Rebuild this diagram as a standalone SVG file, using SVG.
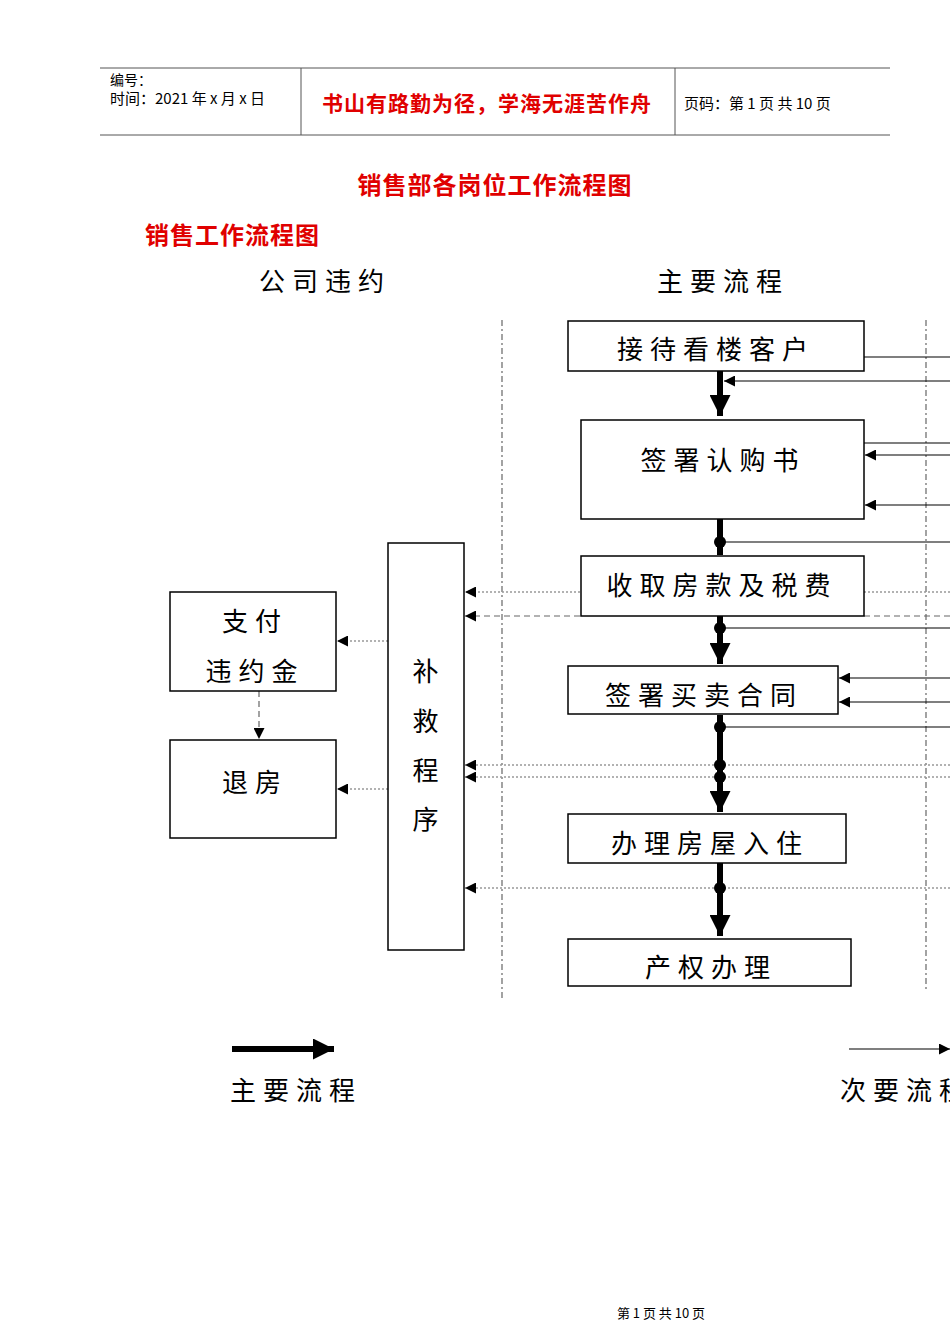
<svg xmlns="http://www.w3.org/2000/svg" width="950" height="1344" viewBox="0 0 950 1344">
<style>
text{font-family:"Noto Sans CJK SC","Liberation Sans",sans-serif;fill:#000}
.box{fill:#fff;stroke:#000;stroke-width:1.5}
.n{font-size:26px;letter-spacing:7px}
.main{stroke:#000;stroke-width:6}
.thin{stroke:#000;stroke-width:1.2}
.dot{stroke:#999;stroke-width:1.5;stroke-dasharray:2 2}
.dash{stroke:#666;stroke-width:1.2;stroke-dasharray:6 4}
.lane{stroke:#666;stroke-width:1.2;stroke-dasharray:6 3 2 3}
</style>
<defs>
<marker id="big" viewBox="0 0 10 10" refX="10" refY="5" markerWidth="5" markerHeight="3.5" orient="auto" markerUnits="strokeWidth"><path d="M0,0L10,5L0,10z" fill="#000"/></marker>
<marker id="sm" viewBox="0 0 10 10" refX="10" refY="5" markerWidth="14" markerHeight="11" orient="auto" markerUnits="userSpaceOnUse"><path d="M0,0L10,5L0,10z" fill="#000"/></marker>
</defs>
<g id="header">
<line x1="100" y1="68" x2="890" y2="68" stroke="#555"/>
<line x1="100" y1="135" x2="890" y2="135" stroke="#555"/>
<line x1="301" y1="68" x2="301" y2="135" stroke="#555"/>
<line x1="675" y1="68" x2="675" y2="135" stroke="#555"/>
<text x="110" y="85" font-size="14">编号：</text>
<text x="110" y="104" font-size="15">时间：2021 年 x 月 x 日</text>
<text x="322" y="111" font-size="21" font-weight="bold" letter-spacing="1" style="fill:#e00000">书山有路勤为径，学海无涯苦作舟</text>
<text x="684" y="109" font-size="15">页码：第 1 页  共 10 页</text>
</g>
<text x="495" y="194" font-size="24" font-weight="bold" letter-spacing="1" text-anchor="middle" style="fill:#e00000">销售部各岗位工作流程图</text>
<text x="145" y="244" font-size="24" font-weight="bold" letter-spacing="1" style="fill:#e00000">销售工作流程图</text>
<text class="n" x="325" y="291" text-anchor="middle">公司违约</text>
<text class="n" x="723" y="291" text-anchor="middle">主要流程</text>
<g id="lanes">
<line class="lane" x1="502" y1="320" x2="502" y2="1000"/>
<line class="lane" x1="926" y1="320" x2="926" y2="990"/>
</g>
<g id="connectors">
<line class="main" x1="720" y1="371" x2="720" y2="416" marker-end="url(#big)"/>
<line class="main" x1="720" y1="519" x2="720" y2="555"/>
<line class="main" x1="720" y1="616" x2="720" y2="664" marker-end="url(#big)"/>
<line class="main" x1="720" y1="715" x2="720" y2="812" marker-end="url(#big)"/>
<line class="main" x1="720" y1="863" x2="720" y2="936" marker-end="url(#big)"/>
<line class="thin" x1="864" y1="357" x2="950" y2="357"/>
<line class="thin" x1="950" y1="381" x2="724" y2="381" marker-end="url(#sm)"/>
<line class="thin" x1="864" y1="443" x2="950" y2="443"/>
<line class="thin" x1="950" y1="455" x2="865" y2="455" marker-end="url(#sm)"/>
<line class="thin" x1="950" y1="505" x2="865" y2="505" marker-end="url(#sm)"/>
<line class="thin" x1="720" y1="542" x2="950" y2="542"/>
<line class="thin" x1="720" y1="628" x2="950" y2="628"/>
<line class="thin" x1="950" y1="678" x2="839" y2="678" marker-end="url(#sm)"/>
<line class="thin" x1="950" y1="702" x2="839" y2="702" marker-end="url(#sm)"/>
<line class="thin" x1="720" y1="727" x2="950" y2="727"/>
<line class="dot" x1="864" y1="592" x2="950" y2="592"/>
<line class="dot" x1="580" y1="592" x2="465" y2="592" marker-end="url(#sm)"/>
<line class="dash" x1="864" y1="616" x2="950" y2="616"/>
<line class="dash" x1="580" y1="616" x2="465" y2="616" marker-end="url(#sm)"/>
<line class="dot" x1="950" y1="765" x2="465" y2="765" marker-end="url(#sm)"/>
<line class="dot" x1="950" y1="777" x2="465" y2="777" marker-end="url(#sm)"/>
<line class="dot" x1="950" y1="888" x2="465" y2="888" marker-end="url(#sm)"/>
<line class="dot" x1="388" y1="641" x2="337" y2="641" marker-end="url(#sm)"/>
<line class="dot" x1="388" y1="789" x2="337" y2="789" marker-end="url(#sm)"/>
<line class="dash" x1="259" y1="691" x2="259" y2="739" marker-end="url(#sm)"/>
<g fill="#000"><circle cx="720" cy="542" r="6"/><circle cx="720" cy="628" r="6"/><circle cx="720" cy="727" r="6"/><circle cx="720" cy="765" r="6"/><circle cx="720" cy="777" r="6"/><circle cx="720" cy="888" r="6"/></g>
</g>
<g id="n1"><rect class="box" x="568" y="321" width="296" height="50"/><text class="n" x="716" y="359" text-anchor="middle">接待看楼客户</text></g>
<g id="n2"><rect class="box" x="581" y="420" width="283" height="99"/><text class="n" x="723" y="470" text-anchor="middle">签署认购书</text></g>
<g id="n3"><rect class="box" x="581" y="556" width="283" height="60"/><text class="n" x="722" y="595" text-anchor="middle">收取房款及税费</text></g>
<g id="n4"><rect class="box" x="568" y="666" width="270" height="48"/><text class="n" x="704" y="705" text-anchor="middle">签署买卖合同</text></g>
<g id="n5"><rect class="box" x="568" y="814" width="278" height="49"/><text class="n" x="710" y="853" text-anchor="middle">办理房屋入住</text></g>
<g id="n6"><rect class="box" x="568" y="939" width="283" height="47"/><text class="n" x="711" y="977" text-anchor="middle">产权办理</text></g>
<g id="n7"><rect class="box" x="388" y="543" width="76" height="407"/><text class="n" x="429" y="681" text-anchor="middle">补</text><text class="n" x="429" y="731" text-anchor="middle">救</text><text class="n" x="429" y="780" text-anchor="middle">程</text><text class="n" x="429" y="829" text-anchor="middle">序</text></g>
<g id="n8"><rect class="box" x="170" y="592" width="166" height="99"/><text class="n" x="255" y="631" text-anchor="middle">支付</text><text class="n" x="255" y="681" text-anchor="middle">违约金</text></g>
<g id="n9"><rect class="box" x="170" y="740" width="166" height="98"/><text class="n" x="255" y="792" text-anchor="middle">退房</text></g>
<g id="legend">
<line class="main" x1="232" y1="1049" x2="334" y2="1049" marker-end="url(#big)"/>
<text class="n" x="296" y="1100" text-anchor="middle">主要流程</text>
<line class="thin" x1="849" y1="1049" x2="950" y2="1049" marker-end="url(#sm)"/>
<text class="n" x="840" y="1100">次要流程</text>
</g>
<text x="661" y="1318" font-size="13" text-anchor="middle">第 1 页 共 10 页</text>
</svg>
